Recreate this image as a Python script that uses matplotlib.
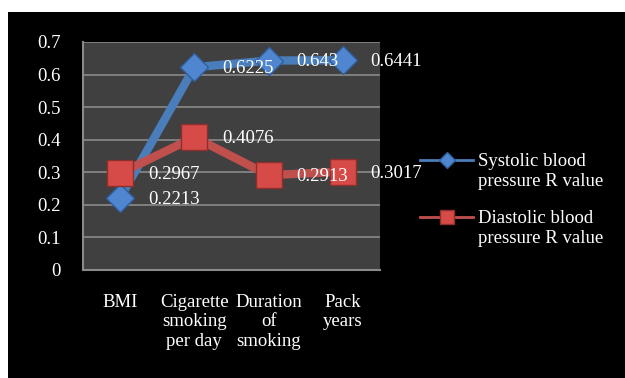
import matplotlib
matplotlib.use("Agg")
from matplotlib import pyplot as plt
from matplotlib.lines import Line2D
from matplotlib.patches import Rectangle
from matplotlib.transforms import offset_copy

# data
categories = ["BMI", "Cigarette\nsmoking\nper day", "Duration\nof\nsmoking", "Pack\nyears"]
systolic = [0.2213, 0.6225, 0.643, 0.6441]
diastolic = [0.2967, 0.4076, 0.2913, 0.3017]
series_names = ["Systolic blood\npressure R value", "Diastolic blood\npressure R value"]
yticks = [0, 0.1, 0.2, 0.3, 0.4, 0.5, 0.6, 0.7]

plt.rcParams['font.family'] = ['Liberation Serif', 'DejaVu Serif']
fs = 13.5

blue = '#4a7ebb'
red = '#c0504d'
W, H = 625, 378

fig = plt.figure(figsize=(6.25, 3.78), dpi=100)
fig.patch.set_facecolor('white')
# black panel behind the chart (white strip on top and left)
fig.patches.append(Rectangle((8 / W, 0), 1, 1 - 12 / H, transform=fig.transFigure,
                             facecolor='black', edgecolor='none', zorder=-10))

ax = fig.add_axes([83 / W, 1 - 270 / H, 297 / W, 228 / H])
ax.set_facecolor('#404040')

x = range(len(categories))

ax.plot(x, systolic, color=blue, lw=6, marker='D', ms=14.5,
        markerfacecolor='#4f86cf', markeredgecolor='#2f5f9e', markeredgewidth=1, zorder=3)
ax.plot(x, diastolic, color=red, lw=6, marker='s', ms=19,
        markerfacecolor='#d64a47', markeredgecolor='#8f2f2d', markeredgewidth=1, zorder=4)

# data labels to the right of each point
for vals in [systolic, diastolic]:
    for i, v in enumerate(vals):
        t = offset_copy(ax.transData, fig=fig, x=20, y=-1, units='points')
        ax.text(i, v, f"{v:g}", color='white', fontsize=fs, ha='left', va='center',
                transform=t, zorder=5, clip_on=False)

ax.set_xlim(-0.5, len(categories) - 0.5)
ax.set_ylim(0, 0.7)
ax.set_yticks(yticks)
ax.set_yticklabels([f"{t:g}" for t in yticks])
ax.set_xticks(list(x))
ax.set_xticklabels(categories, linespacing=1.22)
ax.tick_params(axis='both', length=0, colors='white', labelsize=fs)
ax.tick_params(axis='y', pad=16)
ax.tick_params(axis='x', pad=17)

ax.grid(axis='y', color='#8a8a8a', lw=1.2)
ax.set_axisbelow(True)
for side in ['top', 'right']:
    ax.spines[side].set_visible(False)
for side in ['left', 'bottom']:
    ax.spines[side].set_color('#8a8a8a')
    ax.spines[side].set_linewidth(1.5)

# legend drawn by hand: handle sits level with the first text line
legend_styles = [
    dict(color=blue, marker='D', ms=8, markerfacecolor='#4f86cf', markeredgecolor='#2f5f9e'),
    dict(color=red, marker='s', ms=10, markerfacecolor='#d64a47', markeredgecolor='#8f2f2d'),
]
for k, (name, st) in enumerate(zip(series_names, legend_styles)):
    y0 = 160 + 57 * k
    fig.add_artist(Line2D([420 / W, 473 / W], [1 - y0 / H] * 2, lw=2,
                          transform=fig.transFigure, color=st['color']))
    fig.add_artist(Line2D([446.5 / W], [1 - y0 / H], transform=fig.transFigure, ls='none',
                          marker=st['marker'], ms=st['ms'], markerfacecolor=st['markerfacecolor'],
                          markeredgecolor=st['markeredgecolor']))
    fig.text(478 / W, 1 - (y0 + 11.5) / H, name, color='white', fontsize=fs,
             ha='left', va='center', linespacing=1.2)

fig.savefig('out.png', dpi=100)
